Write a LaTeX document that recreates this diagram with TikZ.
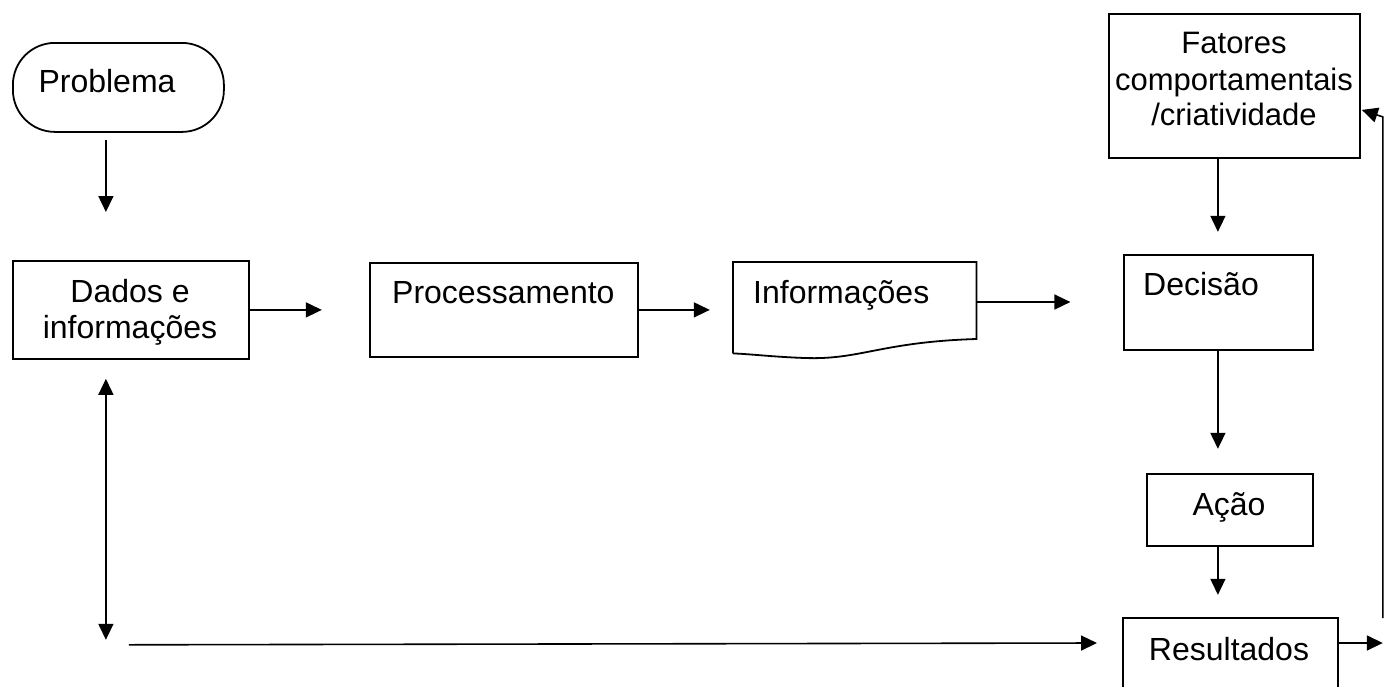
\documentclass[tikz,border=0pt]{standalone}
\usepackage{fontspec}
\setmainfont{Liberation Sans}
\usetikzlibrary{arrows.meta,calc}
\begin{document}
\begin{tikzpicture}[x=1pt,y=-1pt,
  box/.style={draw,line width=1.8pt,rectangle,inner sep=0pt,anchor=north west},
  nobox/.style={rectangle,inner sep=0pt,anchor=north west},
  txt/.style={inner sep=0pt,anchor=base,font=\fontsize{32}{36}\selectfont},
  txtw/.style={inner sep=0pt,anchor=base west,font=\fontsize{32}{36}\selectfont},
  ftxt/.style={inner sep=0pt,anchor=base,font=\fontsize{31}{36}\selectfont},
  tip/.tip={Triangle[length=16pt,width=15pt]},
  arr/.style={line width=1.6pt,-tip},
  darr/.style={line width=1.6pt,tip-tip},
  docline/.style={line width=1.8pt}]
\useasboundingbox (0,0) rectangle (1384,686);
\clip (0,0) rectangle (1384,686);

% nodes
\node[box,rounded corners=42pt,minimum width=211pt,minimum height=89pt] (prob) at (12,42) {};
\node[txt] (probt) at (107,92) {Problema};

\node[box,minimum width=236pt,minimum height=98pt] (dados) at (12,260) {};
\node[txt] (dadost1) at (130,302) {Dados e};
\node[txt] (dadost2) at (130,338) {informações};

\node[box,minimum width=268pt,minimum height=94pt] (proc) at (369,262) {};
\node[txtw] (proct) at (392,303) {Processamento};

\node[nobox,minimum width=243pt,minimum height=91pt] (info) at (733,262) {};
\draw[docline] (info.south west) -- (info.north west) -- (info.north east)
  -- ($(info.north east)+(0,77)$)
  .. controls ($(info.north east)+(-96,80)$) and ($(info.north east)+(-116,98)$) .. ($(info.north west)+(72,96)$)
  .. controls ($(info.north west)+(42,95)$) and ($(info.north west)+(17,92)$) .. (info.south west);
\node[txtw] (infot) at (753,303) {Informações};

\node[box,minimum width=251pt,minimum height=144pt] (fat) at (1108,13) {};
\node[ftxt] (fatt1) at (1234,53) {Fatores};
\node[ftxt] (fatt2) at (1234,90) {comportamentais};
\node[ftxt] (fatt3) at (1234,125) {/criatividade};

\node[box,minimum width=189pt,minimum height=95pt] (dec) at (1123,254) {};
\node[txtw] (dect) at (1143,295) {Decisão};

\node[box,minimum width=166pt,minimum height=72pt] (aca) at (1146,473) {};
\node[txt] (acat) at (1229,515) {Ação};

\node[box,minimum width=215pt,minimum height=90pt] (res) at (1122,617) {};
\node[txt] (rest) at (1229,660) {Resultados};

% connectors
\draw[arr] ($(prob.south)+(-12.5,7)$) -- ($(dados.north)+(-25,-48)$);
\draw[arr] (dados.east) -- ($(dados.east)+(72,0)$);
\draw[arr] (proc.east) -- ($(proc.east)+(71,0)$);
\draw[arr] ($(info.north east)+(0,40)$) -- ($(info.north east)+(94,40)$);
\draw[arr] ($(fat.south)+(-16.5,0)$) -- ($(fat.south)+(-16.5,73)$);
\draw[arr] ($(dec.south)+(-0.5,0)$) -- ($(dec.south)+(-0.5,98)$);
\draw[arr] ($(aca.south)+(-12,0)$) -- ($(aca.south)+(-12,48)$);
\draw[arr] ($(res.north east)+(0,26)$) -- ($(res.north east)+(44,26)$);
\draw[arr] ($(res.north east)+(44,1)$) -- ($(fat.east)+(22,31)$) -- ($(fat.east)+(1,24)$);
\draw[darr] ($(dados.south)+(-25,19)$) -- ($(dados.south)+(-25,280)$);
\draw[arr] ($(dados.south)+(-2,285)$) -- ($(res.north west)+(-25,26)$);
\end{tikzpicture}
\end{document}
